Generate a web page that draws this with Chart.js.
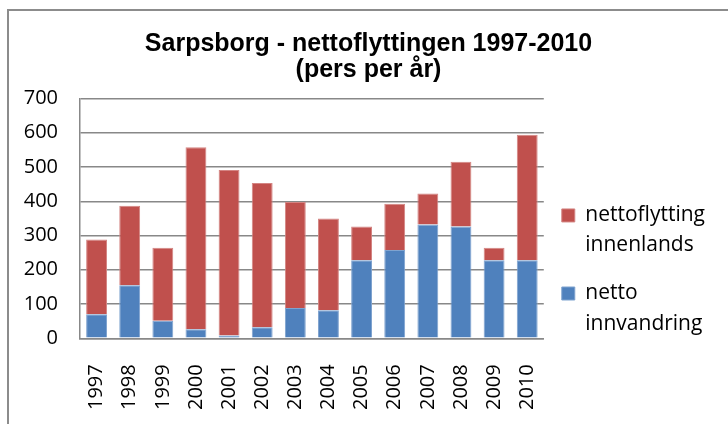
<!DOCTYPE html>
<html>
<head>
<meta charset="utf-8">
<script src="https://cdn.jsdelivr.net/npm/chart.js@4/dist/chart.umd.min.js"></script>
<style>
  html, body { margin: 0; padding: 0; background: #fff; overflow: hidden; }
  #wrap { position: absolute; left: 0; top: 0; width: 728px; height: 424px; }
  #frame { position: absolute; left: 7px; top: 9px; width: 740px; height: 440px;
           border: 2px solid #8c8c8c; pointer-events: none; }
</style>
</head>
<body>
<div id="wrap"><canvas id="sentimentChart"></canvas></div>
<div id="frame"></div>
<script>
// years on the x axis
const years = ['1997', '1998', '1999', '2000', '2001', '2002', '2003',
               '2004', '2005', '2006', '2007', '2008', '2009', '2010'];
// netto innvandring (bottom, blue)
const innvandring = [70, 155, 51, 26, 8, 32, 88, 82, 228, 258, 332, 326, 228, 228];
// nettoflytting innenlands (top, red)
const innenlands = [218, 232, 213, 532, 483, 421, 310, 268, 98, 135, 91, 189, 36, 366];
const yTicks = [0, 100, 200, 300, 400, 500, 600, 700];

const font = 'Open Sans';
const ctx = document.getElementById('sentimentChart').getContext('2d');

new Chart(ctx, {
  type: 'bar',
  data: {
    labels: years,
    datasets: [
      {
        label: ['netto', 'innvandring'],
        data: innvandring,
        backgroundColor: '#4f81bd',
        borderColor: '#7fa3cf',
        borderWidth: 1,
        barPercentage: 0.63,
        categoryPercentage: 1
      },
      {
        label: ['nettoflytting', 'innenlands'],
        data: innenlands,
        backgroundColor: '#c0504d',
        borderColor: '#d48583',
        borderWidth: 1,
        barPercentage: 0.63,
        categoryPercentage: 1
      }
    ]
  },
  options: {
    responsive: true,
    maintainAspectRatio: false,
    animation: false,
    layout: { padding: { left: 22, right: 13, top: 0, bottom: 1 } },
    plugins: {
      title: {
        display: true,
        text: ['Sarpsborg - nettoflyttingen 1997-2010', '(pers per år)'],
        color: '#000',
        font: { family: 'Liberation Sans', size: 25, weight: 'bold', lineHeight: 1.05 },
        padding: { top: 31, bottom: 15 }
      },
      legend: {
        position: 'right',
        reverse: true,
        // empty legend title only used to push the items down
        title: { display: true, text: '', font: { size: 1, lineHeight: 1 }, padding: { top: 124, bottom: 0 } },
        labels: {
          color: '#000',
          font: { family: font, size: 21, lineHeight: 1.43 },
          boxWidth: 13,
          boxHeight: 13,
          padding: 18
        }
      },
      tooltip: { enabled: false }
    },
    scales: {
      x: {
        stacked: true,
        grid: { display: false, drawTicks: false },
        border: { display: true, color: '#888', width: 1.5 },
        ticks: {
          color: '#000',
          font: { family: font, size: 20 },
          minRotation: 90,
          maxRotation: 90,
          padding: 26
        },
        afterFit: function (axis) {
          axis.height -= 13; // padding is counted twice, take some back
        }
      },
      y: {
        stacked: true,
        min: 0,
        max: 700,
        afterBuildTicks: function (axis) {
          axis.ticks = yTicks.map(v => ({ value: v }));
        },
        grid: { color: '#888', lineWidth: 1.5, drawTicks: false },
        border: { display: true, color: '#888', width: 1.5 },
        ticks: {
          color: '#000',
          font: { family: font, size: 20 },
          padding: 22
        },
        afterFit: function (axis) {
          axis.width = 58;
        }
      }
    }
  }
});
</script>
</body>
</html>
